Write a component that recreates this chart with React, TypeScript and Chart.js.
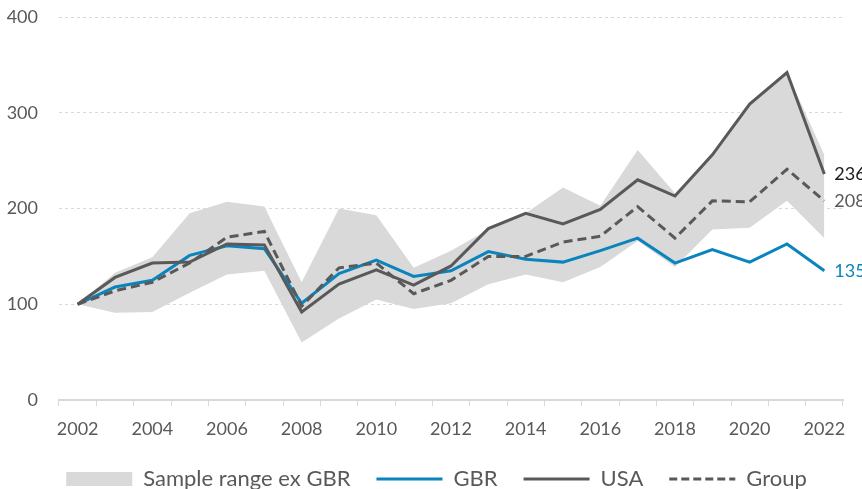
import React, { useEffect, useRef } from "react";
import { Chart, registerables } from "chart.js";

Chart.register(...registerables);

const years = ["2002","2003","2004","2005","2006","2007","2008","2009","2010","2011","2012","2013","2014","2015","2016","2017","2018","2019","2020","2021","2022"];
const bandUpper = [100,133,149,195,207,202,123,200,193,138,156,178,195,222,203,261,216,256,309,342,256];
const bandLower = [100,91,92,112,131,135,60,85,105,95,101,121,131,123,139,166,139,178,180,208,169];
const gbr = [100,118,125,151,161,158,101,132,146,129,135,155,147,144,156,169,143,157,144,163,135];
const usa = [100,128,143,144,163,162,92,121,136,120,140,179,195,184,199,230,213,256,309,342,236];
const group = [100,114,123,143,170,176,98,138,143,111,125,150,150,165,171,202,169,208,207,241,208];
const yTicks = [0, 100, 200, 300, 400];

const BLUE = "#0a84bd";
const DARK = "#595959";
const BAND = "#d9d9d9";
const FONT = "Lato, 'Open Sans', sans-serif";

const endLabelPlugin = {
  id: "endLabels",
  afterLayout(chart: any) {
    if (chart.legend) {
      chart.legend.left += 15;
      chart.legend.right += 15;
    }
  },
  afterDatasetsDraw(chart: any) {
    const ctx = chart.ctx;
    ctx.save();
    ctx.font = `18px ${FONT}`;
    ctx.textBaseline = "middle";
    ctx.textAlign = "left";
    chart.data.datasets.forEach((ds: any, i: number) => {
      if (!ds.endLabelColor) return;
      const meta = chart.getDatasetMeta(i);
      const pt = meta.data[meta.data.length - 1];
      const v = ds.data[ds.data.length - 1];
      ctx.fillStyle = ds.endLabelColor;
      ctx.fillText(String(v), pt.x + 10, pt.y);
    });
    ctx.restore();
  },
};

export default function App() {
  const ref = useRef<HTMLCanvasElement>(null);
  useEffect(() => {
    if (!ref.current) return;
    const chart = new Chart(ref.current, {
      type: "line",
      data: {
        labels: years,
        datasets: [
          { label: "upper", data: bandUpper, borderWidth: 0, pointRadius: 0, fill: false, order: 5, backgroundColor: BAND, borderColor: BAND } as any,
          { label: "Sample range ex GBR", data: bandLower, borderWidth: 0, pointRadius: 0, fill: "-1", order: 6, backgroundColor: BAND, borderColor: BAND } as any,
          { label: "GBR", data: gbr, borderColor: BLUE, borderWidth: 3, pointRadius: 0, fill: false, order: 3, endLabelColor: BLUE } as any,
          { label: "USA", data: usa, borderColor: DARK, borderWidth: 3, pointRadius: 0, fill: false, order: 2, endLabelColor: "#1a1a1a" } as any,
          { label: "Group", data: group, borderColor: DARK, borderWidth: 3, borderDash: [9, 5], pointRadius: 0, fill: false, order: 1, endLabelColor: DARK } as any,
        ],
      },
      options: {
        animation: false,
        responsive: true,
        maintainAspectRatio: false,
        layout: { padding: { top: 17, left: 0, right: 19, bottom: -11 } },
        plugins: {
          tooltip: { enabled: false },
          legend: {
            position: "bottom",
            align: "center",
            labels: {
              usePointStyle: true,
              pointStyleWidth: 66,
              boxHeight: 14,
              padding: 26,
              color: DARK,
              font: { family: FONT, size: 22 },
              generateLabels: () => [
                { text: "Sample range ex GBR", fillStyle: BAND, strokeStyle: BAND, lineWidth: 0, pointStyle: "rect", fontColor: DARK, datasetIndex: 1, hidden: false },
                { text: "GBR", fillStyle: BLUE, strokeStyle: BLUE, lineWidth: 3, pointStyle: "line", fontColor: DARK, datasetIndex: 2, hidden: false },
                { text: "USA", fillStyle: DARK, strokeStyle: DARK, lineWidth: 3, pointStyle: "line", fontColor: DARK, datasetIndex: 3, hidden: false },
                { text: "Group", fillStyle: DARK, strokeStyle: DARK, lineWidth: 3, pointStyle: "line", lineDash: [8, 4], fontColor: DARK, datasetIndex: 4, hidden: false },
              ] as any,
            },
          },
        },
        scales: {
          x: {
            type: "category",
            offset: true,
            afterFit: (s: any) => { s.height = 42; },
            grid: { offset: true, drawOnChartArea: false, drawTicks: true, tickLength: 6, color: BAND, lineWidth: 1 },
            border: { display: true, color: BAND, width: 2 },
            ticks: {
              autoSkip: false,
              maxRotation: 0,
              padding: 12,
              color: DARK,
              font: { family: FONT, size: 18 },
              callback: (_v: any, i: number) => (i % 2 === 0 ? years[i] : ""),
            },
          },
          y: {
            min: yTicks[0],
            max: yTicks[yTicks.length - 1],
            afterFit: (s: any) => { s.width = 59; },
            afterBuildTicks: (s: any) => { s.ticks = yTicks.map((v) => ({ value: v })); },
            grid: { drawTicks: true, tickLength: 21, tickColor: "rgba(0,0,0,0)", color: BAND, lineWidth: 1 },
            border: { display: false, dash: [3, 3] },
            ticks: { padding: 0, color: DARK, font: { family: FONT, size: 18 } },
          },
        },
      },
      plugins: [endLabelPlugin],
    });
    return () => chart.destroy();
  }, []);
  return (
    <div style={{ position: "absolute", left: 0, top: 0, width: 862, height: 489 }}>
      <canvas ref={ref} />
    </div>
  );
}
